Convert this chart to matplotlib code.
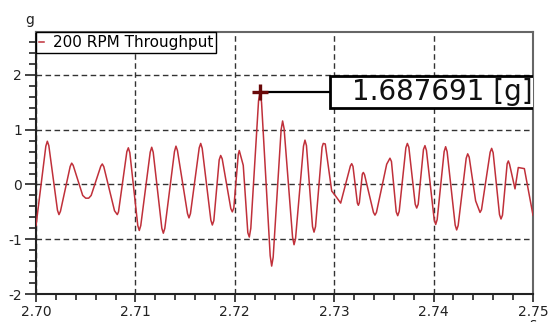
import matplotlib
matplotlib.use("Agg")
import matplotlib.pyplot as plt
from matplotlib.ticker import MultipleLocator, FixedLocator
from matplotlib.patches import Rectangle

# ---- data ----
time_s = [2.70000,
          2.70099, 2.70114, 2.70129, 2.70216, 2.70231, 2.70246, 2.70344, 2.70359, 2.70374,
          2.70470, 2.70500, 2.70530, 2.70555, 2.70652, 2.70667, 2.70682, 2.70790, 2.70818, 2.70830,
          2.70914, 2.70929, 2.70944, 2.71024, 2.71039, 2.71054, 2.71149, 2.71164, 2.71179,
          2.71266, 2.71281, 2.71296, 2.71393, 2.71408, 2.71423, 2.71524, 2.71539, 2.71554,
          2.71642, 2.71657, 2.71672, 2.71759, 2.71774, 2.71789, 2.71843, 2.71858, 2.71873,
          2.71960, 2.71975, 2.71990, 2.72035, 2.72045, 2.72085, 2.72131, 2.72146, 2.72161,
          2.72239, 2.72254, 2.72269, 2.72356, 2.72371, 2.72386, 2.72466, 2.72481, 2.72496,
          2.72581, 2.72596, 2.72611, 2.72691, 2.72706, 2.72721, 2.72782, 2.72797, 2.72812,
          2.72878, 2.72890, 2.72910, 2.72975, 2.73010, 2.73065,
          2.73163, 2.73176, 2.73189, 2.73233, 2.73243, 2.73253, 2.73283, 2.73293, 2.73305,
          2.73395, 2.73410, 2.73425, 2.73528, 2.73561, 2.73576,
          2.73624, 2.73639, 2.73654, 2.73721, 2.73736, 2.73751, 2.73815, 2.73830, 2.73845,
          2.73898, 2.73913, 2.73928, 2.74006, 2.74021, 2.74036, 2.74106, 2.74121, 2.74136,
          2.74217, 2.74232, 2.74247, 2.74328, 2.74343, 2.74358, 2.74423, 2.74467, 2.74482,
          2.74569, 2.74584, 2.74599, 2.74663, 2.74678, 2.74693, 2.74740, 2.74752, 2.74764,
          2.74819, 2.74852, 2.74913, 2.75000]
accel_g = [-0.75,
           0.70, 0.79, 0.71, -0.47, -0.55, -0.49, 0.33, 0.39, 0.35,
           -0.20, -0.25, -0.25, -0.20, 0.335, 0.375, 0.325, -0.48, -0.55, -0.50,
           0.60, 0.67, 0.58, -0.75, -0.84, -0.75, 0.59, 0.68, 0.59,
           -0.80, -0.89, -0.80, 0.60, 0.70, 0.62, -0.53, -0.61, -0.53,
           0.67, 0.75, 0.66, -0.65, -0.74, -0.66, 0.45, 0.53, 0.47,
           -0.44, -0.50, -0.43, 0.55, 0.62, 0.35, -0.88, -0.96, -0.80,
           1.53, 1.687691, 1.50, -1.30, -1.49, -1.33, 1.00, 1.16, 1.02,
           -0.96, -1.10, -0.99, 0.70, 0.81, 0.71, -0.77, -0.87, -0.77,
           0.68, 0.75, 0.74, -0.12, -0.20, -0.34,
           0.34, 0.38, 0.33, -0.34, -0.38, -0.33, 0.19, 0.22, 0.18,
           -0.51, -0.56, -0.51, 0.37, 0.48, 0.42,
           -0.50, -0.57, -0.49, 0.67, 0.75, 0.68, -0.36, -0.43, -0.36,
           0.64, 0.71, 0.62, -0.64, -0.73, -0.64, 0.60, 0.69, 0.60,
           -0.74, -0.83, -0.75, 0.48, 0.56, 0.50, -0.30, -0.51, -0.46,
           0.59, 0.66, 0.58, -0.55, -0.63, -0.56, 0.38, 0.43, 0.37,
           -0.08, 0.31, 0.29, -0.56]
series_label = "200 RPM Throughput"
marker_time = 2.72254
marker_value = 1.687691
marker_text = "1.687691 [g]"
y_unit = "g"
x_unit = "s"
x_major = [2.70, 2.71, 2.72, 2.73, 2.74, 2.75]
y_major = [-2, -1, 0, 1, 2]

fig = plt.figure(figsize=(5.5, 3.22), dpi=100)
ax = fig.add_axes([36/550, 28/322, (533-36)/550, (294-32)/322])

ax.plot(time_s, accel_g, color="#c0303a", lw=1.1, label=series_label, zorder=3)

ax.set_xlim(2.70, 2.75)
ax.set_ylim(-2, 2.785)

ax.xaxis.set_major_locator(FixedLocator(x_major))
ax.yaxis.set_major_locator(FixedLocator(y_major))
ax.xaxis.set_minor_locator(MultipleLocator(0.002))
ax.yaxis.set_minor_locator(MultipleLocator(0.2))
ax.set_xticklabels([f"{v:.2f}" for v in x_major])
ax.set_yticklabels([str(v) for v in y_major])

ax.tick_params(axis="y", which="major", length=8, width=1.2, pad=2, labelsize=10, colors="#222222")
ax.tick_params(axis="y", which="minor", length=5, width=1.2, colors="#222222")
ax.tick_params(axis="x", which="major", length=6, width=1.2, pad=2, labelsize=10, colors="#222222")
ax.tick_params(axis="x", which="minor", length=4, width=1.2, colors="#222222")

ax.grid(True, which="major", color="#333333", lw=1.0, linestyle=(0, (4, 2.5)))

for s in ["left", "bottom"]:
    ax.spines[s].set_linewidth(1.5)
    ax.spines[s].set_color("#222222")
for s in ["top", "right"]:
    ax.spines[s].set_linewidth(1.5)
    ax.spines[s].set_color("#666666")

leg = ax.legend(loc="upper left", borderaxespad=0, fancybox=False, edgecolor="black",
                handlelength=0.3, handletextpad=0.6, borderpad=0.2, framealpha=1,
                fontsize=11)
leg.get_frame().set_linewidth(1.0)

# peak marker annotation
def px_to_x(p):
    return 2.70 + (p - 36) / 497 * 0.05

def py_to_y(p):
    return 2.785 - (p - 32) / 54.75

ax.plot([marker_time], [marker_value], marker="+", color="#6a0a0a", ms=11, mew=2.4, zorder=7)
box_left = px_to_x(330)
ax.plot([marker_time, box_left], [marker_value, marker_value], color="black", lw=1.6, zorder=4)
ax.add_patch(Rectangle((box_left, py_to_y(108)), 0.03, py_to_y(76) - py_to_y(108),
                       facecolor="white", edgecolor="black", lw=2, zorder=5, clip_on=True))
ax.text(px_to_x(352), marker_value, marker_text, fontsize=20, ha="left", va="center",
        color="#111111", clip_on=True, zorder=6)

fig.text(30/550, 1 - 20/322, y_unit, fontsize=10, ha="center", va="center", color="#222222")
fig.text(533/550, 1 - 317/322, x_unit, fontsize=10, ha="center", va="top", color="#222222")

fig.savefig("out.png", dpi=100, facecolor="white")
